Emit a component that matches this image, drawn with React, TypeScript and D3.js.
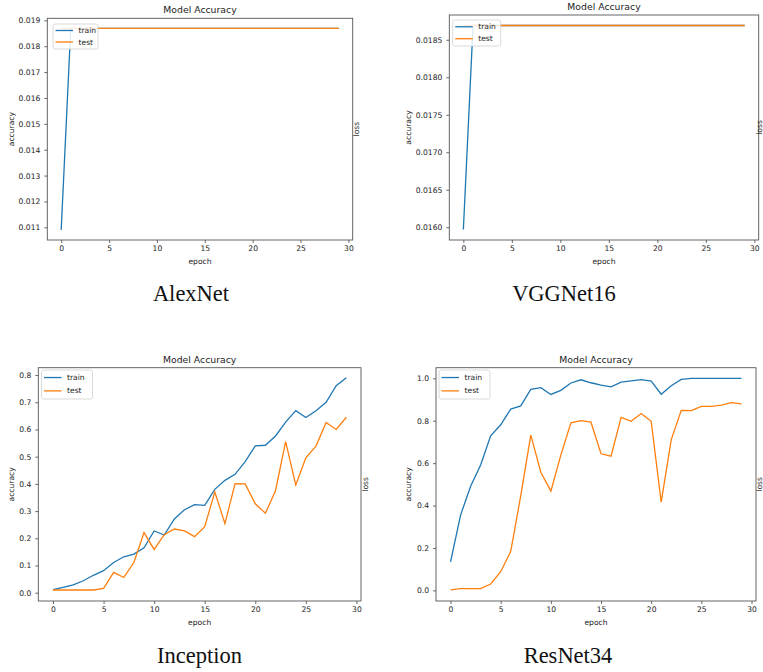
import { useEffect, useRef } from 'react';
import * as d3 from 'd3';

// epochs 0..29
const epochs = [0, 1, 2, 3, 4, 5, 6, 7, 8, 9, 10, 11, 12, 13, 14, 15, 16, 17, 18, 19, 20, 21, 22, 23, 24, 25, 26, 27, 28, 29];
const xTicks = [0, 5, 10, 15, 20, 25, 30];

const alexTrain = [0.0109, 0.01869, 0.01869, 0.01869, 0.01869, 0.01869, 0.01869, 0.01869, 0.01869, 0.01869,
  0.01869, 0.01869, 0.01869, 0.01869, 0.01869, 0.01869, 0.01869, 0.01869, 0.01869, 0.01869,
  0.01869, 0.01869, 0.01869, 0.01869, 0.01869, 0.01869, 0.01869, 0.01869, 0.01869, 0.01869];
const alexTest = [0.01869, 0.01869, 0.01869, 0.01869, 0.01869, 0.01869, 0.01869, 0.01869, 0.01869, 0.01869,
  0.01869, 0.01869, 0.01869, 0.01869, 0.01869, 0.01869, 0.01869, 0.01869, 0.01869, 0.01869,
  0.01869, 0.01869, 0.01869, 0.01869, 0.01869, 0.01869, 0.01869, 0.01869, 0.01869, 0.01869];
const alexTicks = [0.011, 0.012, 0.013, 0.014, 0.015, 0.016, 0.017, 0.018, 0.019];

const vggTrain = [0.01597, 0.01869, 0.01869, 0.01869, 0.01869, 0.01869, 0.01869, 0.01869, 0.01869, 0.01869,
  0.01869, 0.01869, 0.01869, 0.01869, 0.01869, 0.01869, 0.01869, 0.01869, 0.01869, 0.01869,
  0.01869, 0.01869, 0.01869, 0.01869, 0.01869, 0.01869, 0.01869, 0.01869, 0.01869, 0.01869];
const vggTest = [0.01869, 0.01869, 0.01869, 0.01869, 0.01869, 0.01869, 0.01869, 0.01869, 0.01869, 0.01869,
  0.01869, 0.01869, 0.01869, 0.01869, 0.01869, 0.01869, 0.01869, 0.01869, 0.01869, 0.01869,
  0.01869, 0.01869, 0.01869, 0.01869, 0.01869, 0.01869, 0.01869, 0.01869, 0.01869, 0.01869];
const vggTicks = [0.016, 0.0165, 0.017, 0.0175, 0.018, 0.0185];

const incTrain = [0.011, 0.02, 0.029, 0.044, 0.064, 0.081, 0.111, 0.132, 0.142, 0.165,
  0.227, 0.212, 0.271, 0.305, 0.324, 0.321, 0.38, 0.413, 0.435, 0.482,
  0.54, 0.542, 0.576, 0.627, 0.669, 0.644, 0.669, 0.7, 0.761, 0.79];
const incTest = [0.01, 0.01, 0.01, 0.01, 0.01, 0.016, 0.075, 0.056, 0.111, 0.221,
  0.159, 0.213, 0.234, 0.227, 0.206, 0.243, 0.37, 0.254, 0.401, 0.4,
  0.327, 0.292, 0.375, 0.555, 0.396, 0.496, 0.539, 0.626, 0.6, 0.645];
const incTicks = [0, 0.1, 0.2, 0.3, 0.4, 0.5, 0.6, 0.7, 0.8];

const resTrain = [0.134, 0.355, 0.491, 0.591, 0.729, 0.781, 0.855, 0.87, 0.948, 0.956,
  0.924, 0.943, 0.978, 0.993, 0.979, 0.968, 0.96, 0.982, 0.988, 0.994,
  0.987, 0.925, 0.965, 0.995, 1.0, 1.0, 1.0, 1.0, 1.0, 1.0];
const resTest = [0.002, 0.008, 0.008, 0.008, 0.03, 0.088, 0.184, 0.447, 0.732, 0.557,
  0.468, 0.639, 0.79, 0.8, 0.793, 0.644, 0.633, 0.816, 0.797, 0.834,
  0.797, 0.416, 0.711, 0.849, 0.848, 0.868, 0.868, 0.874, 0.885, 0.879];
const resTicks = [0, 0.2, 0.4, 0.6, 0.8, 1.0];

const panels = [
  { caption: 'AlexNet', train: alexTrain, test: alexTest, ticks: alexTicks, fmt: '.3f',
    box: { l: 47.3, r: 352.7, t: 18.3, b: 240 }, yDomain: [0.01051, 0.01908], yLabelX: 11, lossX: 356.5,
    legend: { x: 53, y: 24, w: 45, h: 25 }, cap: { x: 191, y: 301 } },
  { caption: 'VGGNet16', train: vggTrain, test: vggTest, ticks: vggTicks, fmt: '.4f',
    box: { l: 449.3, r: 758.7, t: 15, b: 240 }, yDomain: [0.01583, 0.01883], yLabelX: 408, lossX: 759.5,
    legend: { x: 452.7, y: 20, w: 48, h: 26 }, cap: { x: 564, y: 301 } },
  { caption: 'Inception', train: incTrain, test: incTest, ticks: incTicks, fmt: '.1f',
    box: { l: 38.3, r: 361, t: 367.7, b: 601 }, yDomain: [-0.0305, 0.827], yLabelX: 11, lossX: 365,
    legend: { x: 41.5, y: 370, w: 51, h: 29 }, cap: { x: 199.5, y: 663 } },
  { caption: 'ResNet34', train: resTrain, test: resTest, ticks: resTicks, fmt: '.1f',
    box: { l: 436, r: 756, t: 367.7, b: 601 }, yDomain: [-0.05, 1.05], yLabelX: 408, lossX: 759.5,
    legend: { x: 439, y: 370, w: 51, h: 29 }, cap: { x: 568, y: 663 } },
];

const BLUE = '#1f77b4';
const ORANGE = '#ff7f0e';
const FONT = 'DejaVu Sans, sans-serif';

export default function App() {
  const svgRef = useRef<SVGSVGElement>(null);

  useEffect(() => {
    const svg = d3.select(svgRef.current);
    svg.selectAll('*').remove();

    svg.append('rect').attr('width', 763).attr('height', 672).attr('fill', 'white');

    panels.forEach(p => {
      const { l, r, t, b } = p.box;
      const x = d3.scaleLinear().domain([-1.45, 30.45]).range([l, r]);
      const y = d3.scaleLinear().domain(p.yDomain).range([b, t]);
      const g = svg.append('g');

      // x axis
      const xAxis = g.append('g')
        .attr('transform', `translate(0,${b})`)
        .call(d3.axisBottom(x).tickValues(xTicks).tickSize(3).tickPadding(2.5).tickFormat(d3.format('d')));
      xAxis.select('.domain').remove();

      // y axis
      const yAxis = g.append('g')
        .attr('transform', `translate(${l},0)`)
        .call(d3.axisLeft(y).tickValues(p.ticks).tickSize(3).tickPadding(4).tickFormat(d3.format(p.fmt)));
      yAxis.select('.domain').remove();

      g.selectAll('.tick line').attr('stroke', '#444').attr('stroke-width', 0.8);
      g.selectAll('.tick text').attr('font-family', FONT).attr('font-size', 7.6).attr('fill', '#222');

      // frame
      g.append('rect').attr('x', l).attr('y', t).attr('width', r - l).attr('height', b - t)
        .attr('fill', 'none').attr('stroke', '#555').attr('stroke-width', 0.9);

      // lines
      const line = d3.line<number>().x((_, i) => x(epochs[i])).y(d => y(d));
      g.append('path').datum(p.train).attr('d', line).attr('fill', 'none')
        .attr('stroke', BLUE).attr('stroke-width', 1.3);
      g.append('path').datum(p.test).attr('d', line).attr('fill', 'none')
        .attr('stroke', ORANGE).attr('stroke-width', 1.3);

      // title + labels
      g.append('text').attr('x', (l + r) / 2).attr('y', t - 5).attr('text-anchor', 'middle')
        .attr('font-family', FONT).attr('font-size', 9.3).attr('fill', '#222').text('Model Accuracy');
      g.append('text').attr('x', (l + r) / 2).attr('y', b + 23.5).attr('text-anchor', 'middle')
        .attr('font-family', FONT).attr('font-size', 7.6).attr('fill', '#222').text('epoch');
      g.append('text').attr('transform', `translate(${p.yLabelX},${(t + b) / 2}) rotate(-90)`)
        .attr('text-anchor', 'middle').attr('dominant-baseline', 'central')
        .attr('font-family', FONT).attr('font-size', 7.6).attr('fill', '#222').text('accuracy');
      g.append('text').attr('transform', `translate(${p.lossX},${(t + b) / 2}) rotate(-90)`)
        .attr('text-anchor', 'middle').attr('dominant-baseline', 'central')
        .attr('font-family', FONT).attr('font-size', 7.6).attr('fill', '#222').text('loss');

      // legend
      const lg = p.legend;
      g.append('rect').attr('x', lg.x).attr('y', lg.y).attr('width', lg.w).attr('height', lg.h)
        .attr('rx', 2).attr('fill', 'white').attr('fill-opacity', 0.85)
        .attr('stroke', '#d0d0d0').attr('stroke-width', 0.8);
      [['train', BLUE], ['test', ORANGE]].forEach(([name, color], i) => {
        const ry = lg.y + (i === 0 ? 0.26 : 0.72) * lg.h;
        g.append('line').attr('x1', lg.x + 2.5).attr('x2', lg.x + 20).attr('y1', ry).attr('y2', ry)
          .attr('stroke', color).attr('stroke-width', 1.3);
        g.append('text').attr('x', lg.x + 25.5).attr('y', ry).attr('dominant-baseline', 'central')
          .attr('font-family', FONT).attr('font-size', 7.6).attr('fill', '#222').text(name);
      });

      // caption
      svg.append('text').attr('x', p.cap.x).attr('y', p.cap.y).attr('text-anchor', 'middle')
        .attr('font-family', 'Liberation Serif, Times New Roman, serif').attr('font-size', 22.5)
        .attr('fill', '#111').text(p.caption);
    });
  }, []);

  return (
    <svg ref={svgRef} width={763} height={672}
      style={{ position: 'absolute', left: 0, top: 0, display: 'block' }} />
  );
}
